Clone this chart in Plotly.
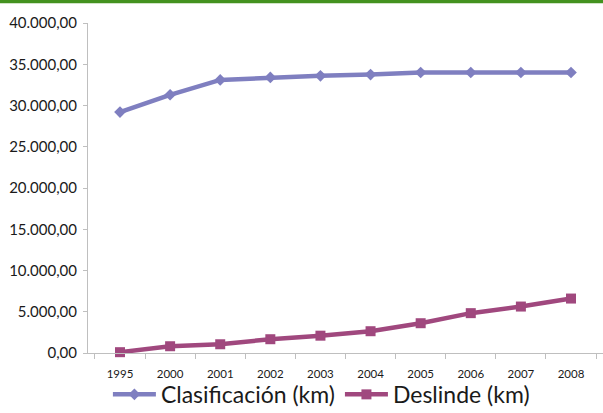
import plotly.graph_objects as go

years = ["1995", "2000", "2001", "2002", "2003", "2004", "2005", "2006", "2007", "2008"]
clasificacion = [29200, 31300, 33100, 33400, 33600, 33750, 34000, 34000, 34000, 34000]
deslinde = [100, 820, 1060, 1670, 2100, 2640, 3610, 4830, 5630, 6600]
y_ticks = [0, 5000, 10000, 15000, 20000, 25000, 30000, 35000, 40000]

fig = go.Figure()
fig.add_trace(go.Scatter(
    x=years, y=clasificacion, name="Clasificación (km)", mode="lines+markers",
    line=dict(color="#7f7fc0", width=4.5),
    marker=dict(symbol="diamond", size=9, color="#7f7fc0"),
    cliponaxis=False,
))
fig.add_trace(go.Scatter(
    x=years, y=deslinde, name="Deslinde (km)", mode="lines+markers",
    line=dict(color="#a0487e", width=4.5),
    marker=dict(symbol="square", size=10, color="#a0487e"),
    cliponaxis=False,
))

fig.update_layout(
    width=603, height=413,
    margin=dict(l=88, r=0, t=23, b=60, autoexpand=False),
    paper_bgcolor="white", plot_bgcolor="white",
    separators=",.",
    font=dict(family="Lato, 'Open Sans', sans-serif", color="#1a1a1a"),
    showlegend=True,
    legend=dict(orientation="h", xref="container", yref="container",
                x=0.533, xanchor="center", y=0.045, yanchor="middle",
                font=dict(size=23, color="#1a1a1a"), itemwidth=43,
                bgcolor="rgba(0,0,0,0)"),
    shapes=[dict(type="rect", xref="paper", yref="paper", x0=-0.2, x1=1.05,
                 y0=1.06, y1=1.075, fillcolor="#43921f", line=dict(width=0), layer="above")],
)
fig.update_xaxes(
    type="category", showgrid=False, showline=True, linecolor="#bfbfbf", linewidth=1,
    ticks="outside", tickson="boundaries", ticklen=5, tickcolor="#bfbfbf",
    tickfont=dict(size=11.5, color="#1a1a1a"), ticklabelstandoff=10,
)
fig.update_yaxes(
    range=[0, 40000], tickvals=y_ticks, tickformat=",.2f",
    showgrid=False, showline=True, linecolor="#bfbfbf", linewidth=1,
    ticks="outside", ticklen=4, tickcolor="#bfbfbf", zeroline=False,
    tickfont=dict(size=15, color="#1a1a1a"), ticklabelstandoff=3,
)

fig.write_html(
    "out.html",
    config={"displayModeBar": False},
    post_script="document.body.style.margin='0';document.body.style.padding='0';document.body.style.overflow='hidden';",
)
